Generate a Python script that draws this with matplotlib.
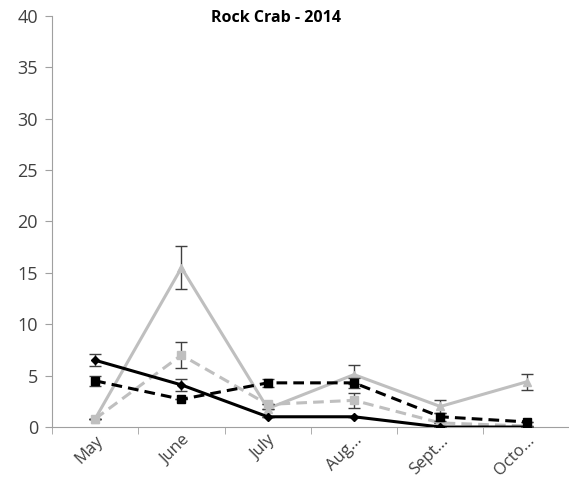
import numpy as np
import matplotlib.pyplot as plt
import matplotlib.transforms as mtransforms

plt.rcParams['font.family'] = ['Open Sans', 'DejaVu Sans']

months = ["May", "June", "July", "Aug...", "Sept...", "Octo..."]

# catch per trap for each series
black_solid = [6.5, 4.1, 1.0, 1.0, 0.0, 0.0]
black_solid_err = [0.6, 0.6, 0.0, 0.0, 0.0, 0.0]
black_dash = [4.5, 2.7, 4.3, 4.3, 1.0, 0.5]
black_dash_err = [0.5, 0.0, 0.4, 0.5, 0.4, 0.0]
gray_solid = [0.8, 15.5, 1.8, 5.1, 2.0, 4.4]
gray_solid_err = [0.0, 2.1, 0.0, 0.9, 0.6, 0.8]
gray_dash = [0.8, 7.0, 2.2, 2.6, 0.4, 0.1]
gray_dash_err = [0.0, 1.3, 0.0, 0.7, 0.0, 0.0]

x = np.arange(len(months))

fig = plt.figure(figsize=(5.69, 4.82), dpi=100)
ax = fig.add_axes([0.0914, 0.114, 0.91, 0.853])

gray = "#bfbfbf"
ecol = "#404040"
ax.errorbar(x, gray_solid, yerr=gray_solid_err, color=gray, lw=2.2, marker="^",
            ms=6, ecolor=ecol, elinewidth=1, capsize=4, zorder=2)
ax.errorbar(x, gray_dash, yerr=gray_dash_err, color=gray, lw=2.2, ls=(0, (3.5, 2)),
            marker="s", ms=6, ecolor=ecol, elinewidth=1, capsize=4, zorder=3)
ax.errorbar(x, black_dash, yerr=black_dash_err, color="black", lw=2.2, ls=(0, (3.5, 2)),
            marker="s", ms=6, ecolor=ecol, elinewidth=1, capsize=4, zorder=4)
ax.errorbar(x, black_solid, yerr=black_solid_err, color="black", lw=2.2, marker="D",
            ms=4.5, ecolor=ecol, elinewidth=1, capsize=4, zorder=5)

ax.set_xlim(-0.5, len(months) - 0.5)
ax.set_ylim(0, 40)
ax.set_yticks(range(0, 41, 5))
ax.set_xticks(x)
ax.set_xticklabels(months, rotation=45, ha="right", rotation_mode="anchor",
                   fontsize=12, color="#404040")
shift = mtransforms.ScaledTranslation(9 / 100, 0, fig.dpi_scale_trans)
for lbl in ax.get_xticklabels():
    lbl.set_transform(lbl.get_transform() + shift)
ax.set_xticks(np.arange(-0.5, len(months), 1), minor=True)
ax.tick_params(axis="x", which="major", length=0, pad=4)
ax.tick_params(axis="x", which="minor", length=5, color="#a0a0a0")
ax.tick_params(axis="y", length=5, color="#a0a0a0", labelsize=13, labelcolor="#404040", pad=5)

for side in ["top", "right"]:
    ax.spines[side].set_visible(False)
for side in ["left", "bottom"]:
    ax.spines[side].set_color("#a0a0a0")

fig.text(276 / 569, 1 - 18 / 482, "Rock Crab - 2014", fontsize=11.5,
         fontweight="bold", ha="center", va="center")

fig.savefig("out.png", dpi=100)
